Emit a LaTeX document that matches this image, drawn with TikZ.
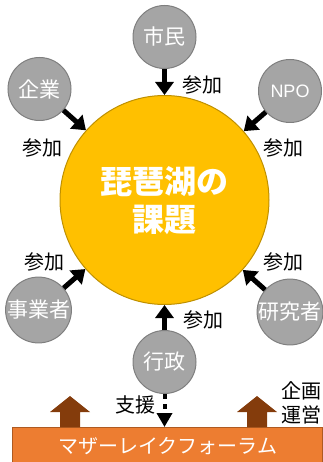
\documentclass[tikz,border=0pt]{standalone}
\usepackage{fontspec}
\setmainfont{Noto Sans CJK JP}
\newfontfamily\latinfont{Liberation Sans}
\usetikzlibrary{arrows.meta}
\definecolor{grayfill}{HTML}{A5A5A5}
\definecolor{graydraw}{HTML}{7F7F7F}
\definecolor{lakefill}{HTML}{FFC000}
\definecolor{lakedraw}{HTML}{BF9000}
\definecolor{forumfill}{HTML}{ED7D31}
\definecolor{forumdraw}{HTML}{AE5A21}
\definecolor{brownarrow}{HTML}{843C0C}
\begin{document}
\begin{tikzpicture}[x=1pt,y=-1pt,
  actor/.style={circle, fill=grayfill, draw=graydraw, line width=1pt, minimum size=63pt, inner sep=0pt, text=white, font=\fontsize{21}{21}\selectfont},
  lbl/.style={font=\fontsize{20}{24}\selectfont, inner sep=0pt},
  joinarrow/.style={line width=5pt, -{Triangle[length=13pt,width=18pt]}},
  bigup/.style={fill=brownarrow}]
\useasboundingbox (0,0) rectangle (323,462);
% lake
\node[circle, fill=lakefill, draw=lakedraw, line width=1pt, minimum size=209pt, inner sep=0pt] (lake) at (164.5,200) {};
\node[text=white, font=\bfseries\fontsize{32}{38}\selectfont, align=center] (title) at (164.5,201) {琵琶湖の\\課題};
% actors
\node[actor] (shimin) at (164.5,37) {市民};
\node[actor] (kigyo) at (39.5,89) {企業};
\node[actor, font=\latinfont\fontsize{18}{18}\selectfont] (npo) at (290,91) {NPO};
\node[actor] (jigyo) at (38.5,310) {事業者};
\node[actor] (kenkyu) at (290,312) {研究者};
\node[actor] (gyosei) at (164.5,362) {行政};
% forum
\node[fill=forumfill, draw=forumdraw, line width=1pt, minimum width=310pt, minimum height=38pt, inner sep=0pt, anchor=north west, text=white, font=\fontsize{20}{20}\selectfont] (forum) at (12,427) {マザーレイクフォーラム};
% participation arrows
\draw[joinarrow] (shimin) -- (lake);
\draw[joinarrow] (kigyo) -- (lake);
\draw[joinarrow] (npo) -- (lake);
\draw[joinarrow] (jigyo) -- (lake);
\draw[joinarrow] (kenkyu) -- (lake);
\draw[joinarrow] (gyosei) -- (lake);
% support arrow
\coordinate (supend) at (forum.north -| gyosei);
\draw[line width=4pt, dash pattern=on 5pt off 5pt, -{Triangle[length=14pt,width=15pt]}] (gyosei) -- (supend);
% brown up arrows
\fill[bigup] (60,427) -- (60,412) -- (50,412) -- (70,396) -- (90,412) -- (80,412) -- (80,427) -- cycle;
\fill[bigup] (247,427) -- (247,412) -- (237,412) -- (257,396) -- (277,412) -- (267,412) -- (267,427) -- cycle;
% labels
\node[lbl] (l1) at (202,85) {参加};
\node[lbl] (l2) at (42,148) {参加};
\node[lbl] (l3) at (283,148) {参加};
\node[lbl] (l4) at (44.5,262) {参加};
\node[lbl] (l5) at (283,262) {参加};
\node[lbl] (l6) at (203,320) {参加};
\node[lbl] (l7) at (135,405) {支援};
\node[lbl, align=center] (l8) at (301,403) {企画\\運営};
\end{tikzpicture}
\end{document}
